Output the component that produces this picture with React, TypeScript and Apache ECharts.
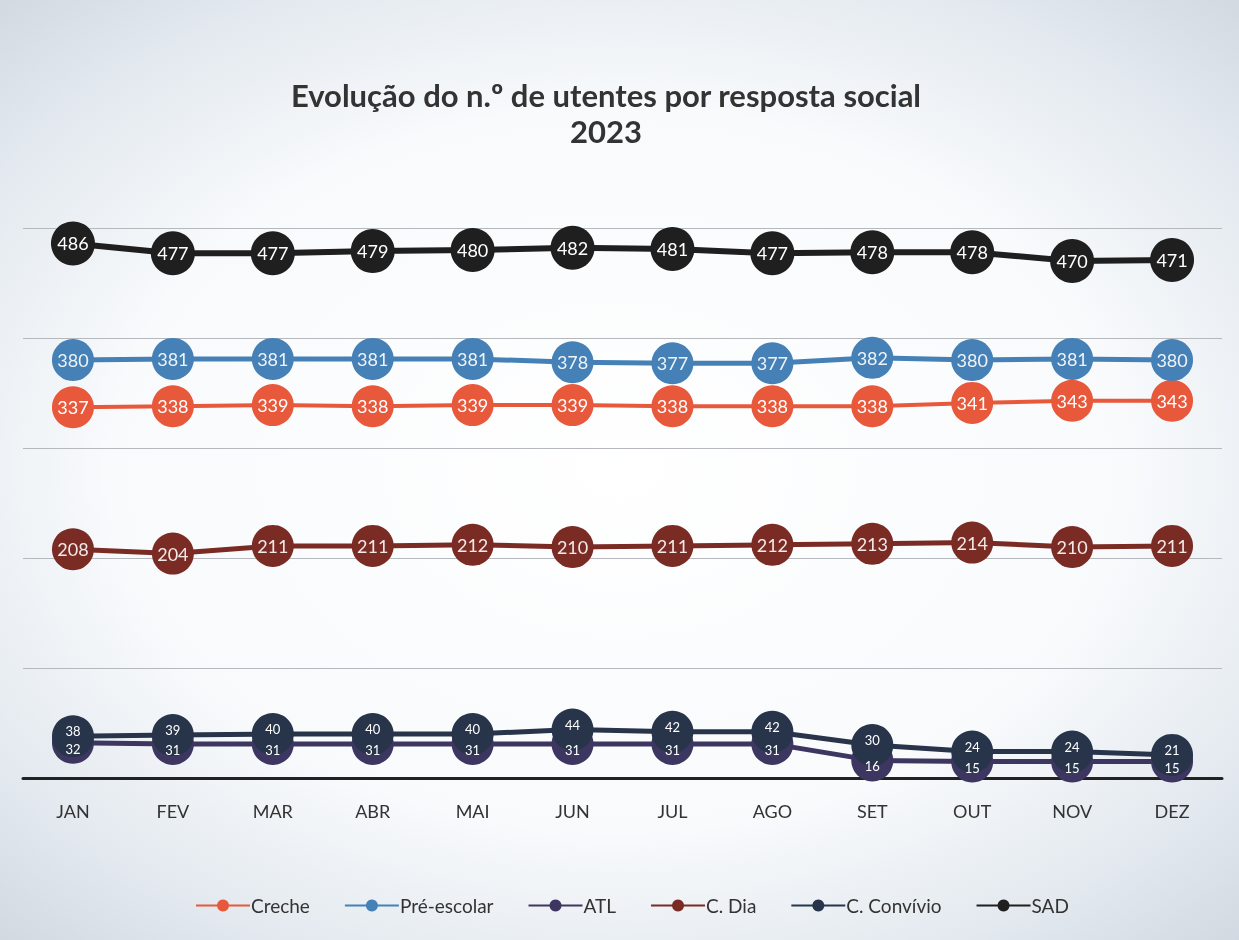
import React, { useEffect, useRef } from "react";
import * as echarts from "echarts";

const months = ["JAN", "FEV", "MAR", "ABR", "MAI", "JUN", "JUL", "AGO", "SET", "OUT", "NOV", "DEZ"];
const creche = [337, 338, 339, 338, 339, 339, 338, 338, 338, 341, 343, 343];
const preEscolar = [380, 381, 381, 381, 381, 378, 377, 377, 382, 380, 381, 380];
const atl = [32, 31, 31, 31, 31, 31, 31, 31, 16, 15, 15, 15];
const cDia = [208, 204, 211, 211, 212, 210, 211, 212, 213, 214, 210, 211];
const cConvivio = [38, 39, 40, 40, 40, 44, 42, 42, 30, 24, 24, 21];
const sad = [486, 477, 477, 479, 480, 482, 481, 477, 478, 478, 470, 471];
const titleLines = ["Evolução do n.º de utentes por resposta social", "2023"];

const FONT = "Lato, 'Open Sans', sans-serif";

function mk(name: string, data: number[], color: string, lw: number, size: number, fs: number, labelColor: string, offsetY = 0) {
  return {
    name,
    type: "line",
    data,
    symbol: "circle",
    symbolSize: size,
    lineStyle: { color, width: lw },
    itemStyle: { color },
    label: {
      show: true,
      position: "inside",
      color: labelColor,
      fontSize: fs,
      fontFamily: FONT,
      offset: [0, offsetY],
    },
    emphasis: { disabled: true },
  };
}

export default function App() {
  const ref = useRef<HTMLDivElement>(null);
  useEffect(() => {
    if (!ref.current) return;
    const chart = echarts.init(ref.current, null, { renderer: "svg" });
    chart.setOption({
      animation: false,
      backgroundColor: "transparent",
      graphic: titleLines.map((t, i) => ({
        type: "text",
        x: 606,
        y: 95 + i * 36,
        style: {
          text: t,
          fontFamily: FONT,
          fontWeight: "bold",
          fontSize: 31,
          fill: "#333333",
          textAlign: "center",
          textVerticalAlign: "middle",
        },
      })),
      grid: { left: 23, right: 17, top: 228, bottom: 162 },
      xAxis: {
        type: "category",
        data: months,
        boundaryGap: true,
        axisLine: { lineStyle: { color: "#222", width: 3 } },
        axisTick: { show: false },
        axisLabel: { color: "#333", fontSize: 18, fontFamily: FONT, margin: 24 },
      },
      yAxis: {
        type: "value",
        min: 0,
        max: 500,
        interval: 100,
        axisLabel: { show: false },
        axisLine: { show: false },
        axisTick: { show: false },
        splitLine: { lineStyle: { color: "#b5b9be", width: 1 } },
      },
      legend: {
        bottom: 20,
        left: 190,
        itemWidth: 54,
        itemHeight: 15,
        itemGap: 34,
        textStyle: { color: "#333", fontSize: 19, fontFamily: FONT, padding: [0, 0, 0, -4] },
        data: ["Creche", "Pré-escolar", "ATL", "C. Dia", "C. Convívio", "SAD"],
      },
      series: [
        mk("Creche", creche, "#e8583b", 4, 42, 18, "#ffffff"),
        mk("Pré-escolar", preEscolar, "#4581b6", 5, 42, 18, "#eef3f8"),
        mk("ATL", atl, "#3d3660", 5, 42, 13, "#ffffff", 6),
        mk("C. Dia", cDia, "#7a2b24", 5, 42, 18, "#f3e9e7"),
        mk("C. Convívio", cConvivio, "#27344a", 5, 42, 13, "#ffffff", -5),
        mk("SAD", sad, "#1f1f1f", 6, 44, 18, "#ffffff"),
      ],
    });
    return () => chart.dispose();
  }, []);
  return (
    <div
      style={{
        position: "fixed",
        left: 0,
        top: 0,
        width: 1239,
        height: 940,
        background:
          "radial-gradient(ellipse 75% 70% at 50% 50%, #ffffff 0%, #f8fafc 55%, #e3e9ef 80%, #cfd7e0 100%)",
      }}
    >
      <div ref={ref} style={{ width: 1239, height: 940 }} />
    </div>
  );
}
